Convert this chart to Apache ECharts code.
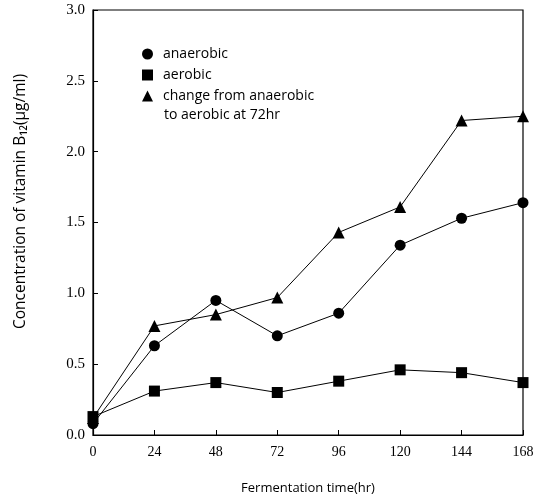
<!DOCTYPE html>
<html>
<head>
<meta charset="utf-8">
<script src="https://cdn.jsdelivr.net/npm/echarts@6/dist/echarts.min.js"></script>
<style>
html, body { margin: 0; padding: 0; background: #fff; }
#main { width: 533px; height: 497px; }
</style>
</head>
<body>
<div id="main"></div>
<script>
var hours = [0, 24, 48, 72, 96, 120, 144, 168];
var anaerobic = [0.08, 0.63, 0.95, 0.70, 0.86, 1.34, 1.53, 1.64];
var aerobic = [0.13, 0.31, 0.37, 0.30, 0.38, 0.46, 0.44, 0.37];
var changed = [0.12, 0.77, 0.85, 0.97, 1.43, 1.61, 2.22, 2.25];
var yTicks = ['0.0', '0.5', '1.0', '1.5', '2.0', '2.5', '3.0'];
var names = ['anaerobic', 'aerobic', 'change from anaerobic'];

function pairs(vals) {
    var out = [];
    for (var i = 0; i < hours.length; i++) {
        out.push([hours[i], vals[i]]);
    }
    return out;
}

var myChart = echarts.init(document.getElementById('main'));
var numFont = 'Liberation Serif';
var txtFont = 'Open Sans';

var option = {
    animation: false,
    backgroundColor: '#fff',
    grid: {
        left: 93, right: 10, top: 10, bottom: 62,
        outerBoundsMode: 'none',
        containLabel: false,
        show: true, borderColor: '#000', borderWidth: 1.2
    },
    legend: {
        orient: 'vertical',
        left: 137, top: 42,
        itemWidth: 11, itemHeight: 11, itemGap: 7,
        textStyle: { fontFamily: txtFont, fontSize: 14, color: '#000', padding: [0, 0, 0, 5] },
        data: [
            { name: names[0], icon: 'circle' },
            { name: names[1], icon: 'rect' },
            { name: names[2], icon: 'triangle' }
        ]
    },
    graphic: [{
        type: 'text', left: 164, top: 108,
        style: { text: 'to aerobic at 72hr', font: '14px "Open Sans"', fill: '#000' }
    }],
    xAxis: {
        type: 'value', min: 0, max: 168, interval: 24,
        name: 'Fermentation time(hr)', nameLocation: 'middle', nameGap: 47,
        nameTextStyle: { fontFamily: txtFont, fontSize: 13, color: '#000' },
        axisLine: { lineStyle: { color: '#000', width: 1.2 } },
        axisTick: { inside: true, length: 5, lineStyle: { color: '#000' } },
        axisLabel: { fontFamily: numFont, fontSize: 14, color: '#000', margin: 10 },
        splitLine: { show: false }
    },
    yAxis: {
        type: 'value', min: 0, max: 3, interval: 0.5,
        name: 'Concentration of vitamin B\u2081\u2082(\u03bcg/ml)', nameLocation: 'middle', nameGap: 64,
        nameTextStyle: { fontFamily: txtFont, fontSize: 15.5, color: '#000', padding: [0, 0, 0, 42] },
        axisLine: { lineStyle: { color: '#000', width: 1.2 } },
        axisTick: { inside: true, length: 5, lineStyle: { color: '#000' } },
        axisLabel: {
            fontFamily: numFont, fontSize: 15, color: '#000', margin: 8,
            formatter: function (v) { return yTicks[Math.round(v / 0.5)]; }
        },
        splitLine: { show: false }
    },
    series: [{
        name: names[0],
        type: 'line',
        data: pairs(anaerobic),
        symbol: 'circle', symbolSize: 11,
        itemStyle: { color: '#000' },
        lineStyle: { color: '#000', width: 1 }
    }, {
        name: names[1],
        type: 'line',
        data: pairs(aerobic),
        symbol: 'rect', symbolSize: 11,
        itemStyle: { color: '#000' },
        lineStyle: { color: '#000', width: 1 }
    }, {
        name: names[2],
        type: 'line',
        data: pairs(changed),
        symbol: 'triangle', symbolSize: 12,
        itemStyle: { color: '#000' },
        lineStyle: { color: '#000', width: 1 }
    }]
};
myChart.setOption(option);
</script>
</body>
</html>
